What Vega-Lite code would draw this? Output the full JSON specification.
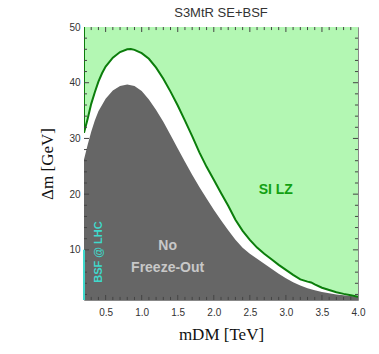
{
  "$schema": "https://vega.github.io/schema/vega-lite/v6.json",
  "width": 274,
  "height": 273,
  "autosize": "none",
  "padding": {"left": 84, "top": 27, "right": 21, "bottom": 54},
  "background": "white",
  "title": {"text": "S3MtR SE+BSF", "font": "Liberation Sans", "fontSize": 13, "fontWeight": "normal", "color": "#333333", "offset": 2, "anchor": "middle"},
  "config": {
    "view": {"stroke": "#888888", "strokeWidth": 1},
    "axis": {
      "domain": false,
      "grid": false,
      "ticks": false,
      "labelOverlap": false,
      "labelFlush": false,
      "labelFont": "Liberation Sans",
      "labelFontSize": 10,
      "labelColor": "#333333",
      "titleFont": "Liberation Serif",
      "titleFontSize": 17,
      "titleFontWeight": "normal",
      "titleColor": "#111111"
    }
  },
  "datasets": {
    "xmaj": [{"v": 0.5}, {"v": 1.0}, {"v": 1.5}, {"v": 2.0}, {"v": 2.5}, {"v": 3.0}, {"v": 3.5}],
    "xmin": [
      {"v": 0.3}, {"v": 0.4}, {"v": 0.6}, {"v": 0.7}, {"v": 0.8}, {"v": 0.9},
      {"v": 1.1}, {"v": 1.2}, {"v": 1.3}, {"v": 1.4}, {"v": 1.6}, {"v": 1.7}, {"v": 1.8}, {"v": 1.9},
      {"v": 2.1}, {"v": 2.2}, {"v": 2.3}, {"v": 2.4}, {"v": 2.6}, {"v": 2.7}, {"v": 2.8}, {"v": 2.9},
      {"v": 3.1}, {"v": 3.2}, {"v": 3.3}, {"v": 3.4}, {"v": 3.6}, {"v": 3.7}, {"v": 3.8}, {"v": 3.9}
    ],
    "ymaj": [{"v": 10}, {"v": 20}, {"v": 30}, {"v": 40}],
    "ymin": [
      {"v": 2}, {"v": 4}, {"v": 6}, {"v": 8}, {"v": 12}, {"v": 14}, {"v": 16}, {"v": 18},
      {"v": 22}, {"v": 24}, {"v": 26}, {"v": 28}, {"v": 32}, {"v": 34}, {"v": 36}, {"v": 38},
      {"v": 42}, {"v": 44}, {"v": 46}, {"v": 48}
    ],
    "lz": [
      {"i": 0, "m": 0.2, "dm": 50},
      {"i": 1, "m": 0.2, "dm": 31},
      {"i": 2, "m": 0.25, "dm": 33.5},
      {"i": 3, "m": 0.3, "dm": 36.2},
      {"i": 4, "m": 0.35, "dm": 38.3},
      {"i": 5, "m": 0.4, "dm": 40.2},
      {"i": 6, "m": 0.45, "dm": 41.7},
      {"i": 7, "m": 0.5, "dm": 42.9},
      {"i": 8, "m": 0.6, "dm": 44.5},
      {"i": 9, "m": 0.7, "dm": 45.5},
      {"i": 10, "m": 0.8, "dm": 46.0},
      {"i": 11, "m": 0.85, "dm": 46.05},
      {"i": 12, "m": 0.9, "dm": 45.9},
      {"i": 13, "m": 1.0, "dm": 45.3},
      {"i": 14, "m": 1.1, "dm": 44.3},
      {"i": 15, "m": 1.2, "dm": 42.7},
      {"i": 16, "m": 1.3, "dm": 40.7},
      {"i": 17, "m": 1.4, "dm": 38.4},
      {"i": 18, "m": 1.5, "dm": 35.9},
      {"i": 19, "m": 1.6, "dm": 33.2},
      {"i": 20, "m": 1.7, "dm": 30.4},
      {"i": 21, "m": 1.8, "dm": 27.5},
      {"i": 22, "m": 1.9, "dm": 24.9},
      {"i": 23, "m": 2.0, "dm": 22.6},
      {"i": 24, "m": 2.1, "dm": 20.2},
      {"i": 25, "m": 2.2, "dm": 17.9},
      {"i": 26, "m": 2.3, "dm": 15.4},
      {"i": 27, "m": 2.4, "dm": 13.4},
      {"i": 28, "m": 2.5, "dm": 11.8},
      {"i": 29, "m": 2.6, "dm": 10.4},
      {"i": 30, "m": 2.7, "dm": 9.3},
      {"i": 31, "m": 2.8, "dm": 8.3},
      {"i": 32, "m": 2.9, "dm": 7.3},
      {"i": 33, "m": 3.0, "dm": 6.4},
      {"i": 34, "m": 3.1, "dm": 5.5},
      {"i": 35, "m": 3.2, "dm": 4.7},
      {"i": 36, "m": 3.3, "dm": 4.3},
      {"i": 37, "m": 3.35, "dm": 4.15},
      {"i": 38, "m": 3.4, "dm": 3.8},
      {"i": 39, "m": 3.5, "dm": 3.2},
      {"i": 40, "m": 3.6, "dm": 2.8},
      {"i": 41, "m": 3.7, "dm": 2.4},
      {"i": 42, "m": 3.8, "dm": 2.1},
      {"i": 43, "m": 3.9, "dm": 1.85},
      {"i": 44, "m": 4.0, "dm": 1.6}
    ],
    "nfo": [
      {"m": 0.2, "dm": 26.2},
      {"m": 0.25, "dm": 28.8},
      {"m": 0.3, "dm": 31.2},
      {"m": 0.35, "dm": 33.2},
      {"m": 0.4, "dm": 34.9},
      {"m": 0.5, "dm": 37.1},
      {"m": 0.6, "dm": 38.6},
      {"m": 0.7, "dm": 39.4},
      {"m": 0.8, "dm": 39.7},
      {"m": 0.9, "dm": 39.4},
      {"m": 1.0, "dm": 38.5},
      {"m": 1.1, "dm": 37.0},
      {"m": 1.2, "dm": 35.1},
      {"m": 1.3, "dm": 33.0},
      {"m": 1.4, "dm": 30.6},
      {"m": 1.5, "dm": 28.2},
      {"m": 1.6, "dm": 25.8},
      {"m": 1.7, "dm": 23.5},
      {"m": 1.8, "dm": 21.3},
      {"m": 1.9, "dm": 19.2},
      {"m": 2.0, "dm": 17.2},
      {"m": 2.1, "dm": 15.3},
      {"m": 2.2, "dm": 13.5},
      {"m": 2.3, "dm": 11.8},
      {"m": 2.4, "dm": 10.4},
      {"m": 2.5, "dm": 9.3},
      {"m": 2.6, "dm": 8.4},
      {"m": 2.7, "dm": 7.5},
      {"m": 2.8, "dm": 6.6},
      {"m": 2.9, "dm": 5.7},
      {"m": 3.0, "dm": 4.9},
      {"m": 3.1, "dm": 4.2},
      {"m": 3.2, "dm": 3.6},
      {"m": 3.3, "dm": 3.1},
      {"m": 3.4, "dm": 2.75},
      {"m": 3.5, "dm": 2.45},
      {"m": 3.6, "dm": 2.2},
      {"m": 3.7, "dm": 2.0},
      {"m": 3.8, "dm": 1.85},
      {"m": 3.9, "dm": 1.7},
      {"m": 4.0, "dm": 1.55}
    ]
  },
  "layer": [
    {
      "data": {"values": [{"m1": 0.2, "m2": 4.0, "lo": 1, "hi": 50}]},
      "mark": {"type": "rect", "color": "#b3f7b3", "opacity": 1},
      "encoding": {
        "x": {"field": "m1", "type": "quantitative", "scale": {"domain": [0.2, 4], "nice": false, "zero": false}, "axis": null},
        "x2": {"field": "m2"},
        "y": {"field": "lo", "type": "quantitative", "scale": {"domain": [1, 50], "nice": false, "zero": false}, "axis": null},
        "y2": {"field": "hi"}
      }
    },
    {
      "data": {"name": "lz"},
      "mark": {"type": "area", "color": "#ffffff", "clip": true, "opacity": 1},
      "encoding": {
        "x": {
          "field": "m", "type": "quantitative",
          "axis": {
            "orient": "bottom",
            "title": "mDM [TeV]", "titlePadding": 9,
            "values": [0.5,1.0,1.5,2.0,2.5,3.0,3.5,4.0],
            "format": ".1f",
            "labelPadding": 7, "labelFlush": false, "labelOverlap": false
          }
        },
        "y": {
          "field": "dm", "type": "quantitative", "stack": null,
          "axis": {
            "orient": "left",
            "title": "Δm [GeV]", "titlePadding": 12,
            "values": [10,20,30,40,50],
            "labelPadding": 4, "labelFlush": false, "labelOverlap": false
          }
        }
      }
    },
    {
      "data": {"name": "nfo"},
      "mark": {"type": "area", "color": "#666666", "clip": true, "opacity": 1},
      "encoding": {
        "x": {"field": "m", "type": "quantitative", "axis": null},
        "y": {"field": "dm", "type": "quantitative", "stack": null, "axis": null}
      }
    },
    {
      "data": {"name": "lz"},
      "mark": {"type": "line", "color": "#0b7d0b", "strokeWidth": 2, "clip": true},
      "encoding": {
        "x": {"field": "m", "type": "quantitative", "axis": null},
        "y": {"field": "dm", "type": "quantitative", "axis": null},
        "order": {"field": "i"}
      }
    },
    {
      "data": {"name": "xmaj"},
      "mark": {"type": "rule", "color": "#444444", "strokeWidth": 1},
      "encoding": {
        "x": {"field": "v", "type": "quantitative", "axis": null},
        "y": {"datum": 1, "type": "quantitative", "axis": null},
        "y2": {"datum": 1.9}
      }
    },
    {
      "data": {"name": "xmin"},
      "mark": {"type": "rule", "color": "#444444", "strokeWidth": 1},
      "encoding": {
        "x": {"field": "v", "type": "quantitative", "axis": null},
        "y": {"datum": 1, "type": "quantitative", "axis": null},
        "y2": {"datum": 1.55}
      }
    },
    {
      "data": {"name": "xmaj"},
      "mark": {"type": "rule", "color": "#444444", "strokeWidth": 1},
      "encoding": {
        "x": {"field": "v", "type": "quantitative", "axis": null},
        "y": {"datum": 50, "type": "quantitative", "axis": null},
        "y2": {"datum": 49.1}
      }
    },
    {
      "data": {"name": "xmin"},
      "mark": {"type": "rule", "color": "#444444", "strokeWidth": 1},
      "encoding": {
        "x": {"field": "v", "type": "quantitative", "axis": null},
        "y": {"datum": 50, "type": "quantitative", "axis": null},
        "y2": {"datum": 49.45}
      }
    },
    {
      "data": {"name": "ymaj"},
      "mark": {"type": "rule", "color": "#444444", "strokeWidth": 1},
      "encoding": {
        "y": {"field": "v", "type": "quantitative", "axis": null},
        "x": {"datum": 0.2, "type": "quantitative", "axis": null},
        "x2": {"datum": 0.27}
      }
    },
    {
      "data": {"name": "ymin"},
      "mark": {"type": "rule", "color": "#444444", "strokeWidth": 1},
      "encoding": {
        "y": {"field": "v", "type": "quantitative", "axis": null},
        "x": {"datum": 0.2, "type": "quantitative", "axis": null},
        "x2": {"datum": 0.242}
      }
    },
    {
      "data": {"name": "ymaj"},
      "mark": {"type": "rule", "color": "#444444", "strokeWidth": 1},
      "encoding": {
        "y": {"field": "v", "type": "quantitative", "axis": null},
        "x": {"datum": 4.0, "type": "quantitative", "axis": null},
        "x2": {"datum": 3.93}
      }
    },
    {
      "data": {"name": "ymin"},
      "mark": {"type": "rule", "color": "#444444", "strokeWidth": 1},
      "encoding": {
        "y": {"field": "v", "type": "quantitative", "axis": null},
        "x": {"datum": 4.0, "type": "quantitative", "axis": null},
        "x2": {"datum": 3.958}
      }
    },
    {
      "data": {"values": [{"m": 0.2, "lo": 1, "hi": 10}]},
      "mark": {"type": "rule", "color": "#3fd9cc", "strokeWidth": 2},
      "encoding": {
        "x": {"field": "m", "type": "quantitative", "axis": null},
        "y": {"field": "lo", "type": "quantitative", "axis": null},
        "y2": {"field": "hi"}
      }
    },
    {
      "data": {"values": [{"m": 2.86, "dm": 20.7, "t": "SI LZ"}]},
      "mark": {"type": "text", "font": "Liberation Sans", "fontSize": 14, "fontWeight": "bold", "color": "#12a012", "align": "center", "baseline": "middle"},
      "encoding": {
        "x": {"field": "m", "type": "quantitative", "axis": null},
        "y": {"field": "dm", "type": "quantitative", "axis": null},
        "text": {"field": "t"}
      }
    },
    {
      "data": {"values": [{"m": 1.36, "dm": 10.7, "t": "No\nFreeze-Out"}]},
      "mark": {"type": "text", "font": "Liberation Sans", "fontSize": 14, "fontWeight": "bold", "color": "#c8c8c8", "align": "center", "baseline": "middle", "lineBreak": "\n", "lineHeight": 22},
      "encoding": {
        "x": {"field": "m", "type": "quantitative", "axis": null},
        "y": {"field": "dm", "type": "quantitative", "axis": null},
        "text": {"field": "t"}
      }
    },
    {
      "data": {"values": [{"m": 0.41, "dm": 9.6, "t": "BSF @ LHC"}]},
      "mark": {"type": "text", "font": "Liberation Sans", "fontSize": 11, "fontWeight": "bold", "color": "#3fd9cc", "align": "center", "baseline": "middle", "angle": 270},
      "encoding": {
        "x": {"field": "m", "type": "quantitative", "axis": null},
        "y": {"field": "dm", "type": "quantitative", "axis": null},
        "text": {"field": "t"}
      }
    }
  ],
  "resolve": {"axis": {"x": "independent", "y": "independent"}}
}
